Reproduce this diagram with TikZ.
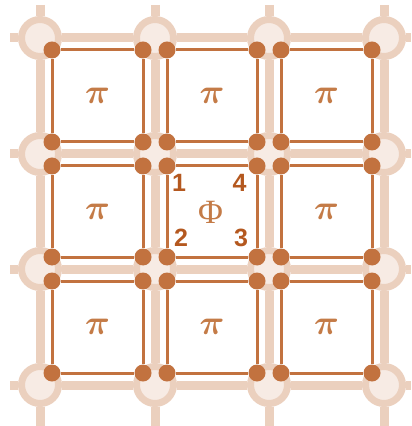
\documentclass[tikz,border=0pt]{standalone}
\usepackage{fontspec}
\usepackage{bm}
\newfontfamily\numfont{Liberation Sans}
\newfontfamily\phifont{Liberation Serif}
\usepackage{xcolor}
\usetikzlibrary{positioning}

\definecolor{bandcol}{HTML}{EBD0BE}
\definecolor{sitefill}{HTML}{F7EBE4}
\definecolor{plaqcol}{HTML}{C2723F}
\definecolor{textcol}{HTML}{C47B47}
\definecolor{numcol}{HTML}{B4581F}

\begin{document}
\begin{tikzpicture}[
  x=0.5pt, y=-0.5pt,
  site/.style={circle, draw=bandcol, line width=3.5pt, fill=sitefill, minimum size=18.5pt, inner sep=0pt},
  dot/.style={circle, fill=plaqcol, minimum size=8.5pt, inner sep=0pt},
  bond/.style={bandcol, line width=4.5pt},
  plaq/.style={plaqcol, line width=1.5pt},
  pilabel/.style={text=textcol, font=\fontsize{18}{18}\selectfont},
  philabel/.style={text=textcol, font=\phifont\fontsize{17}{17}\selectfont},
  numlabel/.style={text=numcol, font=\numfont\bfseries\fontsize{12.5}{12.5}\selectfont}
]
\useasboundingbox (0,0) rectangle (411,426);

% lattice sites
\foreach \i/\x in {0/40,1/155,2/269,3/384}
  \foreach \j/\y in {0/38,1/154,2/269,3/385}
    \node[site] (s-\i-\j) at (\x,\y) {};

% free ends of the lattice lines
\foreach \i/\x in {0/40,1/155,2/269,3/384} {
  \coordinate (t-\i) at (\x,5);
  \coordinate (b-\i) at (\x,426);
}
\foreach \j/\y in {0/38,1/154,2/269,3/385} {
  \coordinate (l-\j) at (10,\y);
  \coordinate (r-\j) at (411,\y);
}

% lattice bonds
\foreach \k in {0,1,2,3} {
  \draw[bond] (t-\k) -- (s-\k-0) -- (s-\k-1) -- (s-\k-2) -- (s-\k-3) -- (b-\k);
  \draw[bond] (l-\k) -- (s-0-\k) -- (s-1-\k) -- (s-2-\k) -- (s-3-\k) -- (r-\k);
}

% plaquettes
\foreach \i/\xa/\xb in {0/40/155,1/155/269,2/269/384}
  \foreach \j/\ya/\yb in {0/38/154,1/154/269,2/269/385} {
    \node[dot] (p-\i-\j-1) at ({\xa+12},{\ya+12}) {};
    \node[dot] (p-\i-\j-2) at ({\xa+12},{\yb-12}) {};
    \node[dot] (p-\i-\j-3) at ({\xb-12},{\yb-12}) {};
    \node[dot] (p-\i-\j-4) at ({\xb-12},{\ya+12}) {};
    \draw[plaq] (p-\i-\j-1) -- (p-\i-\j-2);
    \draw[plaq] (p-\i-\j-2) -- (p-\i-\j-3);
    \draw[plaq] (p-\i-\j-3) -- (p-\i-\j-4);
    \draw[plaq] (p-\i-\j-4) -- (p-\i-\j-1);
    \ifnum\i\j=11 \else
      \node[pilabel] (pi-\i-\j) at ({(\xa+\xb)/2},{(\ya+\yb)/2}) {$\bm{\pi}$};
    \fi
  }

% the central plaquette
\node[philabel] (phi) at (210.5,212) {Φ};
\node[numlabel] (n1) at (179,183) {1};
\node[numlabel] (n4) at (239.5,183) {4};
\node[numlabel] (n2) at (181,237.5) {2};
\node[numlabel] (n3) at (241,237.5) {3};
\end{tikzpicture}
\end{document}
